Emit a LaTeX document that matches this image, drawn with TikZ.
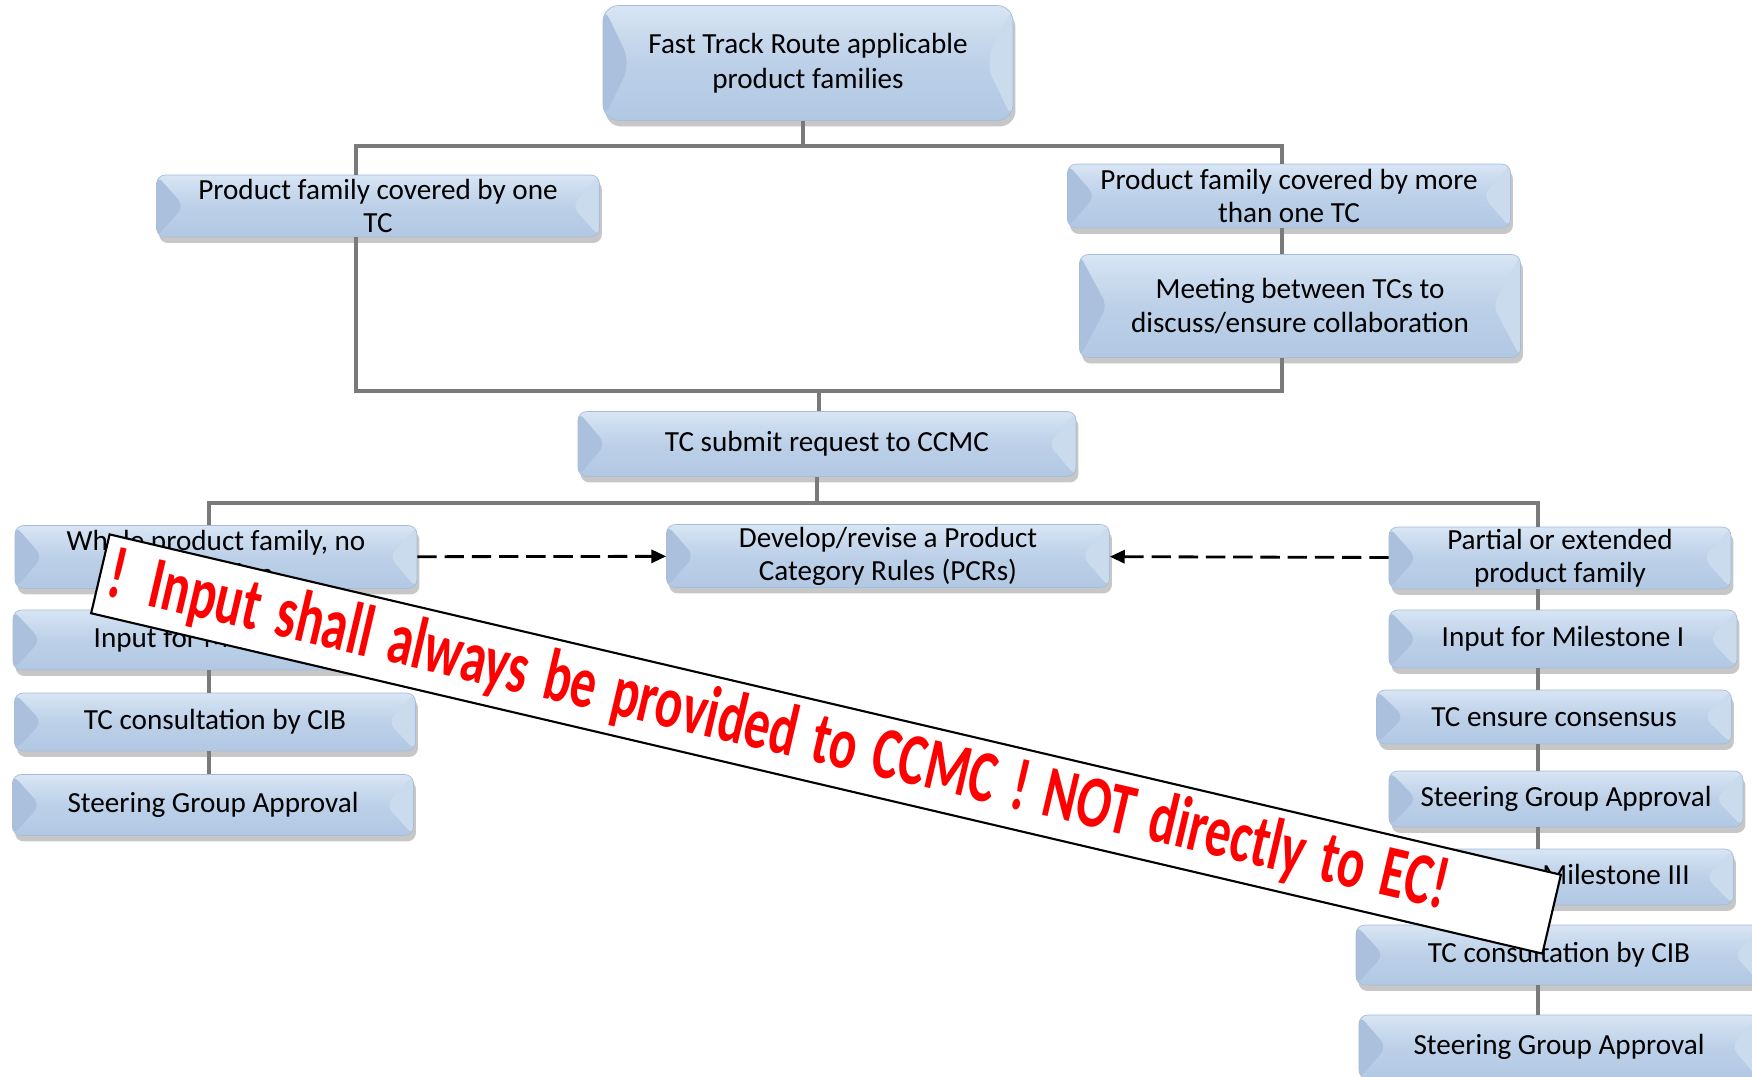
\documentclass[tikz,border=0pt]{standalone}
\usepackage{fontspec}
\setmainfont{Carlito}
\usepackage{graphicx}
\usepackage{xcolor}
\usetikzlibrary{arrows.meta, shadows}

\definecolor{boxtop}{RGB}{216,229,244}
\definecolor{boxmid}{RGB}{188,208,232}
\definecolor{boxbot}{RGB}{178,200,227}
\definecolor{boxedge}{RGB}{165,189,218}
\definecolor{boxdark}{RGB}{170,192,220}
\definecolor{boxlight}{RGB}{202,219,238}
\definecolor{linkgray}{RGB}{122,122,122}
\newcommand{\stagefont}{\fontsize{16.6pt}{18.8pt}\selectfont}
\newcommand{\bannerfont}{\fontsize{42pt}{44pt}\selectfont\bfseries}

\begin{document}
\begin{tikzpicture}[x=0.02cm,y=-0.02cm,
  stage/.style={rounded corners=5pt,top color=boxtop,bottom color=boxbot,middle color=boxmid,
    draw=boxedge,line width=0.4pt,align=center,inner sep=0pt,font=\stagefont,
    drop shadow={shadow xshift=0.5mm,shadow yshift=-1.2mm,fill=black,opacity=0.22},
    path picture={
      \fill[boxdark] (path picture bounding box.north west) -- ([xshift=0.55cm]path picture bounding box.west) -- (path picture bounding box.south west) -- cycle;
      \fill[boxlight] (path picture bounding box.north east) -- ([xshift=-0.55cm]path picture bounding box.east) -- (path picture bounding box.south east) -- cycle;}},
  link/.style={draw=linkgray,line width=2pt},
  flow/.style={draw=black,line width=1.6pt,dash pattern=on 11pt off 4.5pt,-{Triangle[length=8.5pt,width=7.5pt]}},
  banner/.style={draw=black,fill=white,line width=1.2pt,rotate=-13.2,minimum width=29.82cm,minimum height=1.62cm,
    text width=29.46cm,inner xsep=0.18cm,inner ysep=0pt,align=left,text=red,font=\bannerfont}]

\useasboundingbox[fill=white] (0,0) rectangle (1752,1077);

% Upper part of the route
\node[stage,rounded corners=9pt,minimum width=8.2cm,minimum height=2.3cm,font=\fontsize{16.6pt}{20pt}\selectfont] (top) at (808,63) {Fast Track Route applicable\\product families};
\node[stage,minimum width=8.86cm,minimum height=1.24cm] (one) at (378,206) {Product family covered by one\\TC};
\node[stage,minimum width=8.86cm,minimum height=1.28cm] (more) at (1289,196) {Product family covered by more\\than one TC};
\node[stage,minimum width=8.82cm,minimum height=2.06cm] (meet) at (1300,306) {Meeting between TCs to\\discuss/ensure collaboration};
\node[stage,minimum width=9.96cm,minimum height=1.3cm] (submit) at (827,444) {TC submit request to CCMC};

% Left column
\node[stage,minimum width=8.04cm,minimum height=1.26cm] (whole) at (216,557) {Whole product family, no\\extension};
\node[stage,minimum width=8.08cm,minimum height=1.2cm] (lmi) at (215,640) {Input for Milestone I};
\node[stage,minimum width=8.02cm,minimum height=1.16cm] (lcib) at (215,722) {TC consultation by CIB};
\node[stage,minimum width=8.02cm,minimum height=1.22cm] (lsga) at (213,805) {Steering Group Approval};

% Middle
\node[stage,minimum width=8.86cm,minimum height=1.26cm] (dev) at (888,556) {Develop/revise a Product\\Category Rules (PCRs)};

% Right column
\node[stage,minimum width=6.84cm,minimum height=1.24cm] (part) at (1560,558) {Partial or extended\\product family};
\node[stage,minimum width=6.96cm,minimum height=1.16cm] (rmi) at (1563,639) {Input for Milestone I};
\node[stage,minimum width=7.1cm,minimum height=1.08cm] (cons) at (1554,717) {TC ensure consensus};
\node[stage,minimum width=7.08cm,minimum height=1.12cm] (rsga) at (1566,799) {Steering Group Approval};
\node[stage,minimum width=6.9cm,minimum height=1.12cm] (rmiii) at (1561,877) {Input for Milestone III};
\node[stage,minimum width=8.12cm,minimum height=1.2cm] (rcib) at (1559,955) {TC consultation by CIB};
\node[stage,minimum width=8cm,minimum height=1.28cm] (rsga2) at (1559,1047) {Steering Group Approval};

% Column and bus positions
\coordinate (ocol) at (356,0);
\coordinate (mcol) at (1282,0);
\coordinate (lcol) at (209,0);
\coordinate (rcol) at (1538,0);
\coordinate (bus1) at (803,146);
\coordinate (bus2) at (819,391);
\coordinate (bus3) at (817,503);

% Links
\draw[link] (top.south -| bus1) -- (bus1);
\draw[link] (one.north -| ocol) |- (bus1) -| (more.north -| mcol);
\draw[link] (more.south -| mcol) -- (meet.north -| mcol);
\draw[link] (one.south -| ocol) |- (bus2) -| (meet.south -| mcol);
\draw[link] (bus2) -- (submit.north -| bus2);
\draw[link] (submit.south -| bus3) -- (bus3);
\draw[link] (whole.north -| lcol) |- (bus3) -| (part.north -| rcol);
\foreach \a/\b in {whole/lmi,lmi/lcib,lcib/lsga}
  \draw[link] (\a.south -| lcol) -- (\b.north -| lcol);
\foreach \a/\b in {part/rmi,rmi/cons,cons/rsga,rsga/rmiii,rmiii/rcib,rcib/rsga2}
  \draw[link] (\a.south -| rcol) -- (\b.north -| rcol);

% Dashed arrows to the PCR box
\draw[flow] (whole) -- (dev);
\draw[flow] (part) -- (dev);

% Warning banner
\node[banner] (warn) at (826,744) {\scalebox{0.69}[1]{! Input shall always be provided to CCMC ! NOT directly to EC!}};

\end{tikzpicture}
\end{document}
